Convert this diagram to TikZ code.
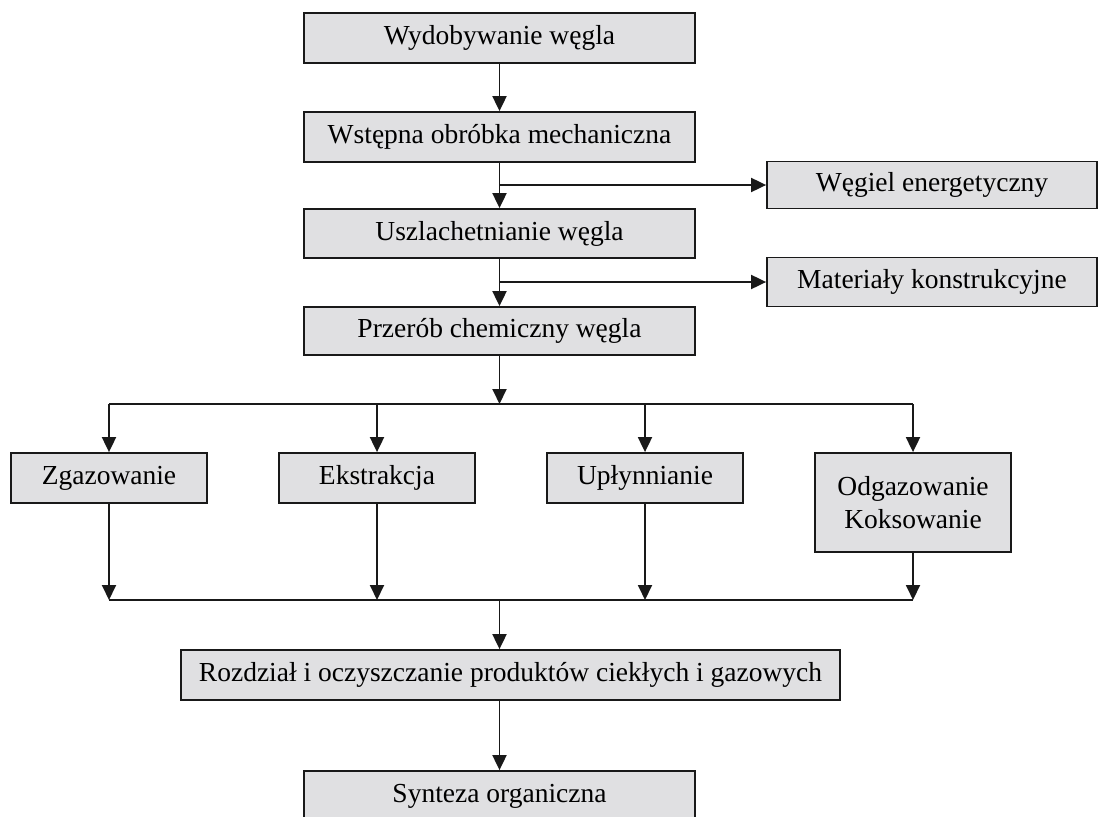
\documentclass[tikz,border=0pt]{standalone}
\usepackage{fontspec}
\setmainfont{Liberation Serif}
\usetikzlibrary{arrows.meta}
\definecolor{boxfill}{RGB}{224,224,226}
\definecolor{ink}{RGB}{25,25,25}
\begin{document}
\begin{tikzpicture}[x=1pt,y=-1pt,
  box/.style={draw=ink,line width=1.8pt,fill=boxfill,inner sep=0pt,
    font=\fontsize{27.5}{33}\selectfont,align=center},
  link/.style={draw=ink,line width=1.9pt},
  arr/.style={link,-{Triangle[width=14pt,length=15pt]}}]
\useasboundingbox (0,0) rectangle (1099,816);
\clip (0,0) rectangle (1099,816);
\fill[white] (0,0) rectangle (1099,816);

% main chain
\node[box,minimum width=391pt,minimum height=50pt] (b1) at (499.5,38) {Wydobywanie węgla};
\node[box,minimum width=391pt,minimum height=50pt] (b2) at (499.5,137) {Wstępna obróbka mechaniczna};
\node[box,minimum width=391pt,minimum height=49pt] (b3) at (499.5,233.5) {Uszlachetnianie węgla};
\node[box,minimum width=391pt,minimum height=48pt] (b4) at (499.5,331) {Przerób chemiczny węgla};

% side products
\node[box,minimum width=330pt,minimum height=47pt] (e1) at (932,185) {Węgiel energetyczny};
\node[box,minimum width=330pt,minimum height=49pt] (e2) at (932,282) {Materiały konstrukcyjne};

% processing routes
\node[box,minimum width=196pt,minimum height=50pt] (z) at (109,478) {Zgazowanie};
\node[box,minimum width=196pt,minimum height=50pt] (ek) at (377,478) {Ekstrakcja};
\node[box,minimum width=196pt,minimum height=50pt] (up) at (645,478) {Upłynnianie};
\node[box,minimum width=196pt,minimum height=99pt] (od) at (913,502.5) {Odgazowanie\\Koksowanie};

% final stages
\node[box,minimum width=659pt,minimum height=50pt] (rz) at (510.5,675) {Rozdział i oczyszczanie produktów ciekłych i gazowych};
\node[box,minimum width=391pt,minimum height=50pt] (sy) at (499.5,796) {Synteza organiczna};

% junction points
\coordinate (j1) at (499.5,185);
\coordinate (j2) at (499.5,282);
\coordinate (d0) at (499.5,404);
\coordinate (c0) at (499.5,600);

% connectors
\draw[arr] (b1) -- (b2);
\draw[arr] (b2) -- (b3);
\draw[arr] (b3) -- (b4);
\draw[arr] (j1) -- (e1.west);
\draw[arr] (j2) -- (e2.west);
\draw[arr] (b4) -- (d0);
\draw[link] (z.north |- d0) -- (od.north |- d0);
\foreach \n in {z,ek,up,od}{
  \draw[arr] (\n.north |- d0) -- (\n.north);
  \draw[arr] (\n.south) -- (\n.south |- c0);
}
\draw[link] (z.south |- c0) -- (od.south |- c0);
\draw[arr] (c0) -- (c0 |- rz.north);
\draw[arr] (c0 |- rz.south) -- (sy.north);
\end{tikzpicture}
\end{document}
